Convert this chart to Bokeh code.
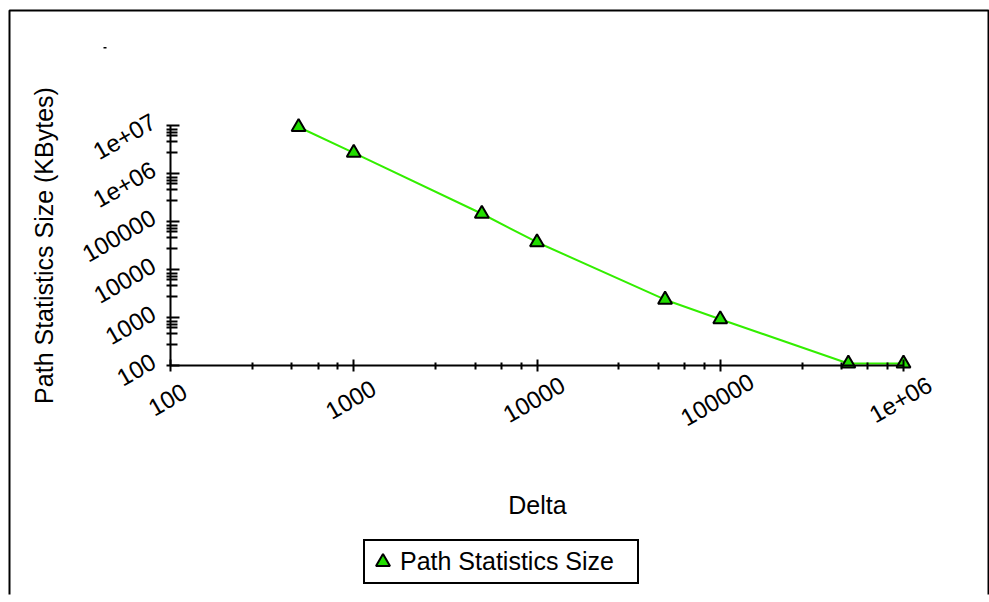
import math
from bokeh.plotting import figure
from bokeh.models import (ColumnDataSource, FixedTicker, LabelSet, Label, Legend, LegendItem,
                          BoxAnnotation, Range1d)
from bokeh.core.properties import value
from bokeh.embed import file_html
from bokeh.resources import INLINE

# ---- data ----
delta = [500, 1000, 5000, 10000, 50000, 100000, 500000, 1000000]
size_kb = [9.3e6, 2.7e6, 1.45e5, 3.7e4, 2.35e3, 920, 110, 110]

x_ticks = [100, 1000, 10000, 100000, 1000000]
x_tick_labels = ["100", "1000", "10000", "100000", "1e+06"]
y_ticks = [100, 1000, 10000, 100000, 1000000, 10000000]
y_tick_labels = ["100", "1000", "10000", "100000", "1e+06", "1e+07"]
x_minor_steps = [2.8, 4.6, 6.4, 8.2]
y_minor_steps = [2.8, 4.6, 6.1, 7.2, 8.4]

series_name = "Path Statistics Size"
x_title = "Delta"
y_title = "Path Statistics Size (KBytes)"

# ---- styling ----
FONT = "Liberation Sans"
LINE_COLOR = "#33ee00"
FILL_COLOR = "#22dd00"

# canvas / frame layout (pixels)
W, H = 989, 602
FRAME_L, FRAME_R, FRAME_T, FRAME_B = 7, 989, 0, 594
ORIGIN_X, ORIGIN_Y = 170, 365   # pixel position of the axes' corner (100, 100)
PX_X = 183.25                   # px per decade, x
PX_Y = 48.0                     # px per decade, y

x_range = Range1d(x_ticks[0] * 10 ** (-(ORIGIN_X - FRAME_L) / PX_X),
                  x_ticks[0] * 10 ** ((FRAME_R - ORIGIN_X) / PX_X))
y_range = Range1d(y_ticks[0] * 10 ** (-(FRAME_B - ORIGIN_Y) / PX_Y),
                  y_ticks[0] * 10 ** ((ORIGIN_Y - FRAME_T) / PX_Y))


def sx(px):  # canvas px -> frame-relative screen units
    return px - FRAME_L


def sy(py):
    return FRAME_B - py


p = figure(width=W, height=H, x_axis_type="log", y_axis_type="log",
           x_range=x_range, y_range=y_range,
           output_backend="svg", toolbar_location=None,
           min_border_left=FRAME_L, min_border_right=W - FRAME_R,
           min_border_top=FRAME_T, min_border_bottom=H - FRAME_B)
p.grid.visible = False
p.outline_line_color = None
p.background_fill_color = "white"
p.border_fill_color = "white"

xa = p.xaxis[0]
ya = p.yaxis[0]
xa.ticker = FixedTicker(ticks=x_ticks,
                        minor_ticks=[t * m for t in x_ticks[:-1] for m in x_minor_steps])
ya.ticker = FixedTicker(ticks=y_ticks,
                        minor_ticks=[t * m for t in y_ticks[:-1] for m in y_minor_steps])
xa.bounds = (x_ticks[0], x_ticks[-1])
ya.bounds = (y_ticks[0], y_ticks[-1])
xa.fixed_location = y_ticks[0]
ya.fixed_location = x_ticks[0]

for ax in (xa, ya):
    ax.axis_line_color = "black"
    ax.axis_line_width = 2
    ax.major_tick_line_color = "black"
    ax.minor_tick_line_color = "black"
    ax.major_tick_line_width = 2
    ax.minor_tick_line_width = 2
    ax.major_label_text_font_size = "1px"
    ax.major_label_text_alpha = 0
    ax.major_label_standoff = 0

xa.major_tick_in, xa.major_tick_out = 6, 6
xa.minor_tick_in, xa.minor_tick_out = 3, 4
ya.major_tick_in, ya.major_tick_out = 9, 4
ya.minor_tick_in, ya.minor_tick_out = 7, 4

# rotated tick labels
xsrc = ColumnDataSource(dict(x=x_ticks, y=[y_ticks[0]] * len(x_ticks), text=x_tick_labels))
ysrc = ColumnDataSource(dict(x=[x_ticks[0]] * len(y_ticks), y=y_ticks, text=y_tick_labels))
p.add_layout(LabelSet(x="x", y="y", text="text", source=xsrc, angle=math.pi / 6,
                      text_align="center", text_baseline="middle",
                      x_offset=-3, y_offset=-34,
                      text_font=value(FONT), text_font_size=value("24px"),
                      text_color="black"))
p.add_layout(LabelSet(x="x", y="y", text="text", source=ysrc, angle=math.pi / 6,
                      text_align="right", text_baseline="middle",
                      x_offset=-17, y_offset=6,
                      text_font=value(FONT), text_font_size=value("24px"),
                      text_color="black"))

# axis titles
p.add_layout(Label(x=sx(537), y=sy(504), x_units="screen", y_units="screen",
                   text=x_title, text_align="center", text_baseline="middle",
                   text_font=FONT, text_font_size="25px", text_color="black"))
p.add_layout(Label(x=sx(43.5), y=sy(245), x_units="screen", y_units="screen",
                   text=y_title, angle=math.pi / 2,
                   text_align="center", text_baseline="middle",
                   text_font=FONT, text_font_size="25px", text_color="black"))

# data
src = ColumnDataSource(dict(x=delta, y=size_kb))
p.line("x", "y", source=src, line_color=LINE_COLOR, line_width=2)
sc = p.scatter("x", "y", source=src, marker="triangle", size=14,
               fill_color=FILL_COLOR, line_color="black", line_width=2)

legend = Legend(items=[LegendItem(label=series_name, renderers=[sc])],
                location=(sx(363), sy(584)),
                orientation="vertical", padding=0, margin=0, spacing=0,
                glyph_width=35, glyph_height=41, label_standoff=0,
                label_width=237, label_height=41,
                label_text_font=FONT, label_text_font_size="25px",
                label_text_color="black",
                border_line_color="black", border_line_width=2, border_line_alpha=1,
                background_fill_color="white", background_fill_alpha=1)
p.add_layout(legend)

# outer frame of the chart (bottom edge lies below the visible area)
p.add_layout(BoxAnnotation(left=sx(9), right=sx(988), top=sy(10), bottom=sy(660),
                           left_units="screen", right_units="screen",
                           top_units="screen", bottom_units="screen",
                           fill_alpha=0, line_color="black", line_alpha=1, line_width=2))
# small stray dash at top-left
p.add_layout(BoxAnnotation(left=sx(103), right=sx(106), top=sy(46.5), bottom=sy(48),
                           left_units="screen", right_units="screen",
                           top_units="screen", bottom_units="screen",
                           fill_color="black", fill_alpha=1, line_alpha=0))

open("out.html", "w").write(file_html(p, INLINE))
